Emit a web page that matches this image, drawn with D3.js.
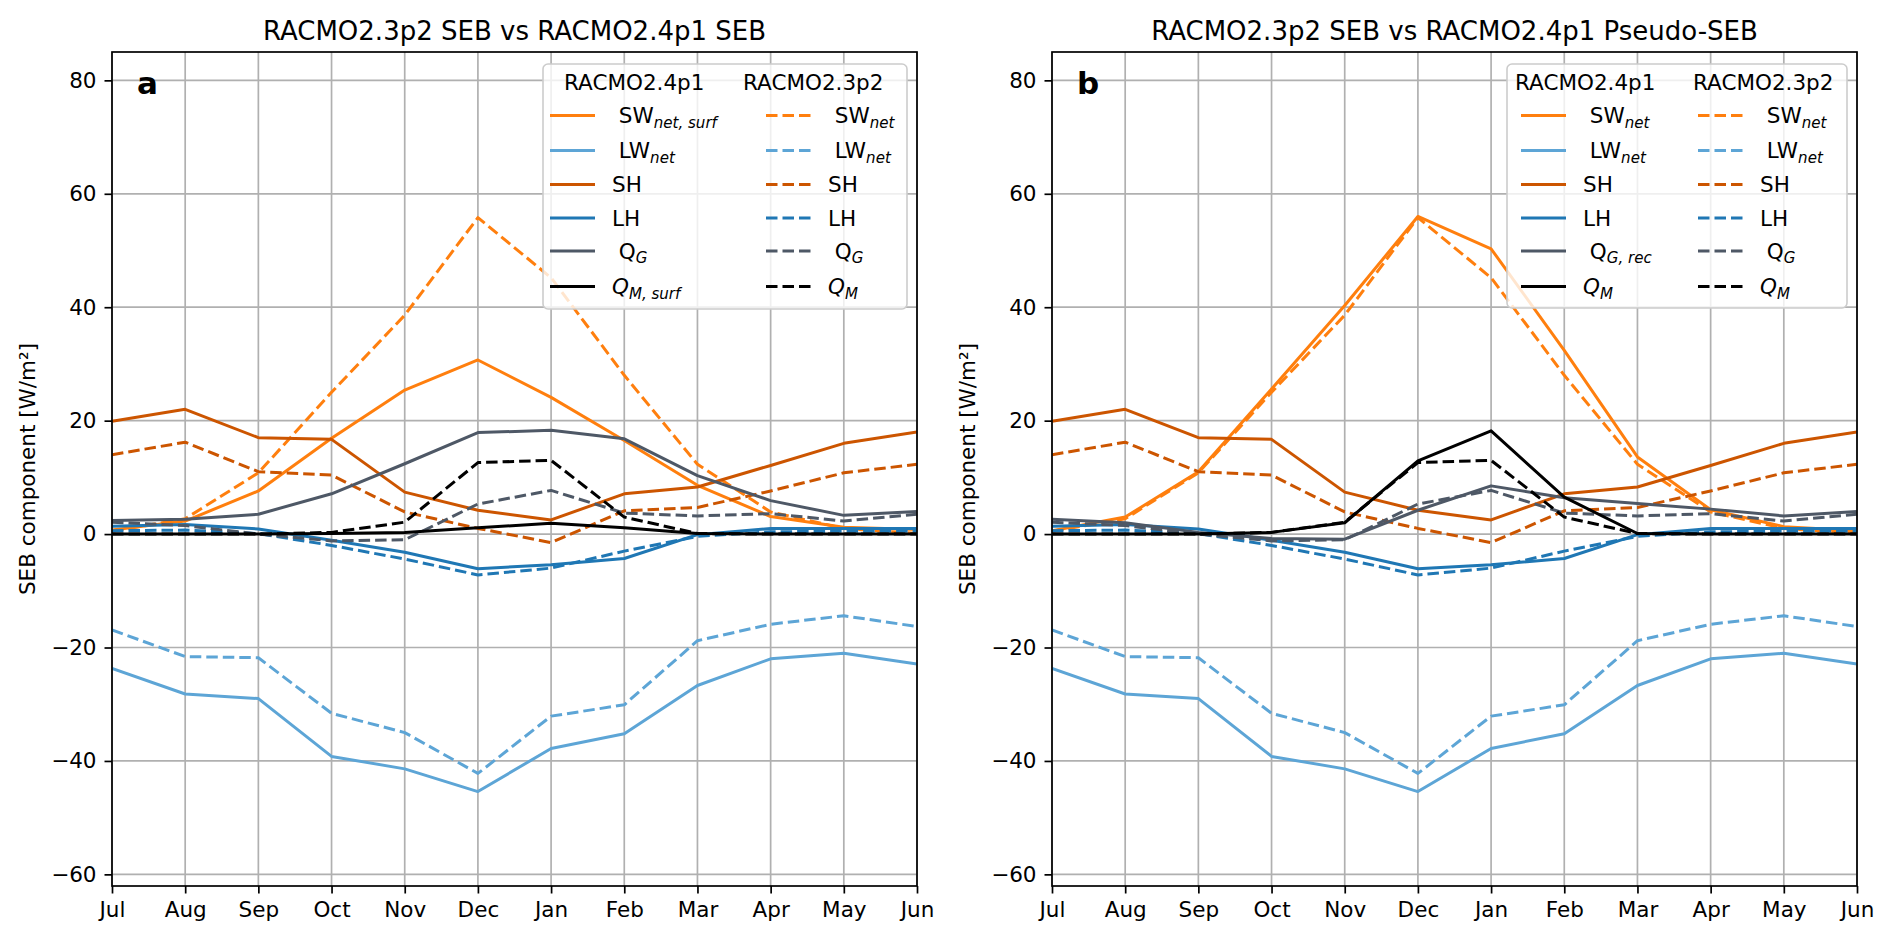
<!DOCTYPE html>
<html>
<head>
<meta charset="utf-8">
<script src="https://cdn.jsdelivr.net/npm/d3@7"></script>
<style>
  body { margin: 0; background: #fff; }
  text { font-family: "DejaVu Sans", sans-serif; }
</style>
</head>
<body>
<script>
// monthly values (W/m2)
const months = ["Jul", "Aug", "Sep", "Oct", "Nov", "Dec", "Jan", "Feb", "Mar", "Apr", "May", "Jun"];
const yTicks = [-60, -40, -20, 0, 20, 40, 60, 80];

// RACMO2.4p1
const sw24surf = [0.7, 2.3, 7.6, 16.9, 25.4, 30.7, 24.1, 16.5, 8.6, 3.1, 1.2, 0.8];
const sw24 = [0.6, 3.0, 11.0, 25.6, 40.3, 56.0, 50.3, 32.4, 13.6, 4.3, 1.3, 0.6];
const lw24 = [-23.7, -28.2, -29.0, -39.2, -41.4, -45.4, -37.8, -35.2, -26.7, -22.0, -21.0, -22.9];
const sh24 = [19.9, 22.0, 17.0, 16.7, 7.4, 4.2, 2.5, 7.1, 8.3, 12.1, 16.0, 18.0];
const lh24 = [1.4, 1.7, 0.9, -1.1, -3.2, -6.1, -5.4, -4.3, -0.1, 1.0, 1.0, 1.0];
const qg24 = [2.4, 2.6, 3.5, 7.1, 12.4, 17.9, 18.3, 16.8, 10.3, 5.9, 3.3, 4.0];
const qg24rec = [2.6, 2.0, 0.3, -0.8, -0.9, 4.2, 8.5, 6.4, 5.4, 4.4, 3.2, 4.0];
const qm24surf = [0, 0, 0, 0.1, 0.3, 1.1, 1.9, 1.1, 0.1, 0, 0, 0];
const qm24 = [0, 0, 0, 0.3, 2.0, 12.9, 18.2, 6.5, 0.1, 0, 0, 0];

// RACMO2.3p2
const sw23 = [0.5, 2.7, 10.8, 25.0, 38.6, 55.8, 45.2, 28.0, 12.3, 3.9, 1.0, 0.1];
const lw23 = [-16.9, -21.6, -21.8, -31.6, -35.0, -42.2, -32.1, -30.1, -18.8, -15.9, -14.4, -16.3];
const sh23 = [14.0, 16.2, 11.0, 10.4, 3.9, 1.0, -1.5, 4.1, 4.7, 7.6, 10.8, 12.3];
const lh23 = [0.6, 0.7, 0.1, -2.0, -4.4, -7.2, -6.0, -3.0, -0.4, 0.4, 0.5, 0.5];
const qg23 = [2.1, 1.5, 0.0, -1.2, -1.0, 5.3, 7.7, 3.7, 3.2, 3.6, 2.3, 3.5];
const qm23 = [0, 0, 0, 0.3, 2.1, 12.6, 13.0, 3.0, 0.1, 0, 0, 0];

var swColor = "#ff7f0e", lwColor = "#5da5d6", shColor = "#cc5500",
    lhColor = "#1f77b4", qgColor = "#4e5866", qmColor = "#000000";

var lineWidth = 3, dash = "11.5,5";
var fontSize = 21.5;

// label pieces: [text, style]  ("" upright, "i" italic, "s" italic subscript)
var lab = {
  swSurf: [[" SW", ""], ["net, surf", "s"]],
  sw: [[" SW", ""], ["net", "s"]],
  lw: [[" LW", ""], ["net", "s"]],
  sh: [["SH", ""]],
  lh: [["LH", ""]],
  qg: [[" Q", ""], ["G", "s"]],
  qgRec: [[" Q", ""], ["G, rec", "s"]],
  qmSurf: [["Q", "i"], ["M, surf", "s"]],
  qm: [["Q", "i"], ["M", "s"]]
};

var svg = d3.select("body").append("svg")
    .attr("width", 1892)
    .attr("height", 943);

var plotTop = 52, plotBottom = 886;

function addLabel(textSel, parts) {
  parts.forEach(function(p) {
    var t = textSel.append("tspan").text(p[0]).attr("xml:space", "preserve");
    if (p[1] === "i") t.attr("font-style", "italic");
    if (p[1] === "s") {
      t.attr("font-style", "italic").attr("font-size", fontSize * 0.7)
        .attr("dy", 4.5);
    }
  });
}

function drawPanel(cfg) {
  var x = d3.scalePoint().domain(months).range([cfg.left, cfg.right]);
  var y = d3.scaleLinear().domain([-62.05, 85]).range([plotBottom, plotTop]);
  var g = svg.append("g");

  // grid
  g.append("g").selectAll("line").data(months).enter().append("line")
      .attr("x1", d => x(d)).attr("x2", d => x(d))
      .attr("y1", plotTop).attr("y2", plotBottom)
      .attr("stroke", "#b0b0b0").attr("stroke-width", 1.7);
  g.append("g").selectAll("line").data(yTicks).enter().append("line")
      .attr("x1", cfg.left).attr("x2", cfg.right)
      .attr("y1", d => y(d)).attr("y2", d => y(d))
      .attr("stroke", "#b0b0b0").attr("stroke-width", 1.7);

  var clipId = "clip" + cfg.letter;
  svg.append("clipPath").attr("id", clipId).append("rect")
      .attr("x", cfg.left).attr("y", plotTop)
      .attr("width", cfg.right - cfg.left).attr("height", plotBottom - plotTop);

  var line = d3.line().x((d, i) => x(months[i])).y(d => y(d));

  g.append("g").attr("clip-path", "url(#" + clipId + ")")
      .selectAll("path").data(cfg.lines).enter().append("path")
      .attr("d", d => line(d.values))
      .attr("fill", "none")
      .attr("stroke", d => d.color)
      .attr("stroke-width", lineWidth)
      .attr("stroke-linejoin", "round")
      .attr("stroke-dasharray", d => d.dashed ? dash : null);

  // axes
  var xAxis = g.append("g")
      .attr("transform", "translate(0," + plotBottom + ")")
      .call(d3.axisBottom(x).tickSize(7.5).tickPadding(8.5));
  var yAxis = g.append("g")
      .attr("transform", "translate(" + cfg.left + ",0)")
      .call(d3.axisLeft(y).tickValues(yTicks).tickSize(7.5).tickPadding(8));
  [xAxis, yAxis].forEach(function(a) {
    a.select(".domain").remove();
    a.selectAll(".tick line").attr("stroke", "#000").attr("stroke-width", 1.7);
    a.selectAll(".tick text").attr("fill", "#000")
      .attr("font-size", fontSize).attr("font-family", "DejaVu Sans");
  });

  // frame
  g.append("rect")
      .attr("x", cfg.left).attr("y", plotTop)
      .attr("width", cfg.right - cfg.left).attr("height", plotBottom - plotTop)
      .attr("fill", "none").attr("stroke", "#000").attr("stroke-width", 1.7);

  g.append("text")
      .attr("x", (cfg.left + cfg.right) / 2).attr("y", 40)
      .attr("text-anchor", "middle")
      .attr("font-size", 26)
      .text(cfg.title);

  g.append("text")
      .attr("transform", "translate(" + (cfg.left - 77) + "," + ((plotTop + plotBottom) / 2) + ") rotate(-90)")
      .attr("text-anchor", "middle")
      .attr("font-size", fontSize)
      .text("SEB component [W/m²]");

  g.append("text")
      .attr("x", cfg.left + 25).attr("y", 94)
      .attr("font-size", 31).attr("font-weight", "bold")
      .text(cfg.letter);

  // legend
  var lg = cfg.legend;
  var leg = g.append("g");
  leg.append("rect")
      .attr("x", lg.x).attr("y", lg.y).attr("width", lg.w).attr("height", lg.h)
      .attr("rx", 5)
      .attr("fill", "#fff").attr("fill-opacity", 0.8)
      .attr("stroke", "#cccccc").attr("stroke-width", 1.6);

  var rowsY = [115.5, 150.5, 184.5, 218, 251, 286.5];
  lg.cols.forEach(function(col) {
    leg.append("text")
        .attr("x", col.hx).attr("y", 90)
        .attr("font-size", fontSize)
        .text(col.header);
    col.entries.forEach(function(e, i) {
      leg.append("line")
          .attr("x1", col.lx).attr("x2", col.lx + 45)
          .attr("y1", rowsY[i]).attr("y2", rowsY[i])
          .attr("stroke", e.color).attr("stroke-width", lineWidth)
          .attr("stroke-dasharray", e.dashed ? dash : null);
      var t = leg.append("text")
          .attr("x", col.lx + 45 + 17).attr("y", rowsY[i] + 7.8)
          .attr("font-size", fontSize);
      addLabel(t, e.label);
    });
  });
}

function series(list, dashed) {
  return list.map(function(s) { return {values: s[0], color: s[1], label: s[2], dashed: dashed}; });
}

var old = series([[sw23, swColor, lab.sw], [lw23, lwColor, lab.lw], [sh23, shColor, lab.sh],
                  [lh23, lhColor, lab.lh], [qg23, qgColor, lab.qg], [qm23, qmColor, lab.qm]], true);

var newA = series([[sw24surf, swColor, lab.swSurf], [lw24, lwColor, lab.lw], [sh24, shColor, lab.sh],
                   [lh24, lhColor, lab.lh], [qg24, qgColor, lab.qg], [qm24surf, qmColor, lab.qmSurf]], false);

var newB = series([[sw24, swColor, lab.sw], [lw24, lwColor, lab.lw], [sh24, shColor, lab.sh],
                   [lh24, lhColor, lab.lh], [qg24rec, qgColor, lab.qgRec], [qm24, qmColor, lab.qm]], false);

function interleave(a, b) {
  var out = [];
  a.forEach(function(d, i) { out.push(d, b[i]); });
  return out;
}

drawPanel({
  left: 112, right: 917, letter: "a",
  title: "RACMO2.3p2 SEB vs RACMO2.4p1 SEB",
  lines: interleave(newA, old),
  legend: {x: 543, y: 64, w: 364, h: 245,
    cols: [{header: "RACMO2.4p1", hx: 564, lx: 550, entries: newA},
           {header: "RACMO2.3p2", hx: 743, lx: 766, entries: old}]}
});

drawPanel({
  left: 1052, right: 1857, letter: "b",
  title: "RACMO2.3p2 SEB vs RACMO2.4p1 Pseudo-SEB",
  lines: interleave(newB, old),
  legend: {x: 1507, y: 64, w: 340, h: 244,
    cols: [{header: "RACMO2.4p1", hx: 1515, lx: 1521, entries: newB},
           {header: "RACMO2.3p2", hx: 1693, lx: 1698, entries: old}]}
});
</script>
</body>
</html>
